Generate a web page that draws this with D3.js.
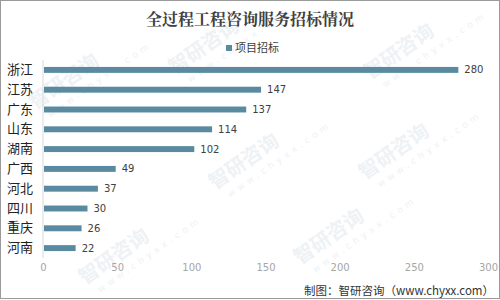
<!DOCTYPE html>
<html>
<head>
<meta charset="utf-8">
<script src="https://d3js.org/d3.v7.min.js"></script>
<style>
  body { margin: 0; background: #fff; }
  svg { display: block; }
</style>
</head>
<body>
<div id="chart"></div>
<script>
// Data
const provinces = ['浙江', '江苏', '广东', '山东', '湖南', '广西', '河北', '四川', '重庆', '河南'];
const bidCounts = [280, 147, 137, 114, 102, 49, 37, 30, 26, 22];
const xTicks = [0, 50, 100, 150, 200, 250, 300];
const seriesName = '项目招标';
const title = '全过程工程咨询服务招标情况';
const sourceNote = '制图：智研咨询（www.chyxx.com）';

const width = 500, height = 300;
const barColor = '#5a8a9f';
const sansFont = '"Microsoft YaHei", "Noto Sans CJK SC", sans-serif';

const svg = d3.select('#chart')
    .append('svg')
    .attr('width', width)
    .attr('height', height);

svg.append('rect')
    .attr('x', 0.5).attr('y', 0.5)
    .attr('width', width - 1).attr('height', height - 2)
    .attr('fill', '#fff')
    .attr('stroke', '#9a9a9a');

// Faint watermarks
const marks = [[35, 110], [175, 75], [370, 80], [215, 190], [85, 285], [365, 180], [300, 265]];
marks.forEach(([x, y]) => {
    const g = svg.append('g').attr('transform', `translate(${x},${y}) rotate(-35)`);
    g.append('text').attr('font-family', sansFont).attr('font-size', 20)
        .attr('font-weight', 'bold').attr('fill', '#eef2f5').text('智研咨询');
    g.append('text').attr('y', 15).attr('x', 8).attr('font-family', 'DejaVu Sans')
        .attr('font-size', 9).attr('fill', '#eef2f5').attr('letter-spacing', 4).text('www.chyxx.com');
});

// Scales
const x = d3.scaleLinear().domain([0, 300]).range([43, 488]);
const y = d3.scaleBand().domain(provinces).range([60, 258]).paddingInner(0.7).paddingOuter(0.35);

// Title
svg.append('text')
    .attr('x', 250).attr('y', 25)
    .attr('text-anchor', 'middle')
    .attr('font-family', '"Noto Serif CJK SC", "Noto Sans CJK SC", serif')
    .attr('font-size', 16)
    .attr('font-weight', 'bold')
    .attr('fill', '#404040')
    .text(title);

// Legend
svg.append('rect')
    .attr('x', 226).attr('y', 45).attr('width', 6).attr('height', 6)
    .attr('fill', barColor);
svg.append('text')
    .attr('x', 235).attr('y', 52)
    .attr('font-family', sansFont)
    .attr('font-size', 11)
    .attr('fill', '#404040')
    .text(seriesName);

// Axis line
svg.append('line')
    .attr('x1', x(0)).attr('x2', x(0))
    .attr('y1', 60).attr('y2', 258)
    .attr('stroke', '#d9d9d9');

// X axis tick labels
const xAxis = d3.axisBottom(x).tickValues(xTicks).tickSize(0).tickPadding(6);
const gx = svg.append('g').attr('transform', 'translate(0,258)').call(xAxis);
gx.select('.domain').remove();
gx.selectAll('text')
    .attr('font-family', 'Verdana, "DejaVu Sans", sans-serif')
    .attr('font-size', 10)
    .attr('fill', '#a6a6a6');

// Category labels
const yAxis = d3.axisLeft(y).tickSize(0).tickPadding(0);
const gy = svg.append('g').attr('transform', 'translate(7,0)').call(yAxis);
gy.select('.domain').remove();
gy.selectAll('text')
    .attr('text-anchor', 'start')
    .attr('font-family', sansFont)
    .attr('font-size', 13)
    .attr('fill', '#222');

// Bars
const bars = provinces.map((p, i) => ({ name: p, value: bidCounts[i] }));
svg.selectAll('.bar')
    .data(bars)
    .enter()
    .append('rect')
    .attr('class', 'bar')
    .attr('x', x(0) + 1)
    .attr('y', d => y(d.name))
    .attr('width', d => x(d.value) - x(0) - 1)
    .attr('height', y.bandwidth())
    .attr('fill', barColor);

// Value labels
svg.selectAll('.val')
    .data(bars)
    .enter()
    .append('text')
    .attr('class', 'val')
    .attr('x', d => x(d.value) + 6)
    .attr('y', d => y(d.name) + y.bandwidth() / 2)
    .attr('dy', '0.35em')
    .attr('font-family', 'Verdana, "DejaVu Sans", sans-serif')
    .attr('font-size', 10)
    .attr('fill', '#404040')
    .text(d => d.value);

// Source note
svg.append('text')
    .attr('x', 494).attr('y', 295)
    .attr('text-anchor', 'end')
    .attr('font-family', sansFont)
    .attr('font-size', 11.5)
    .attr('fill', '#333')
    .text(sourceNote);
</script>
</body>
</html>
